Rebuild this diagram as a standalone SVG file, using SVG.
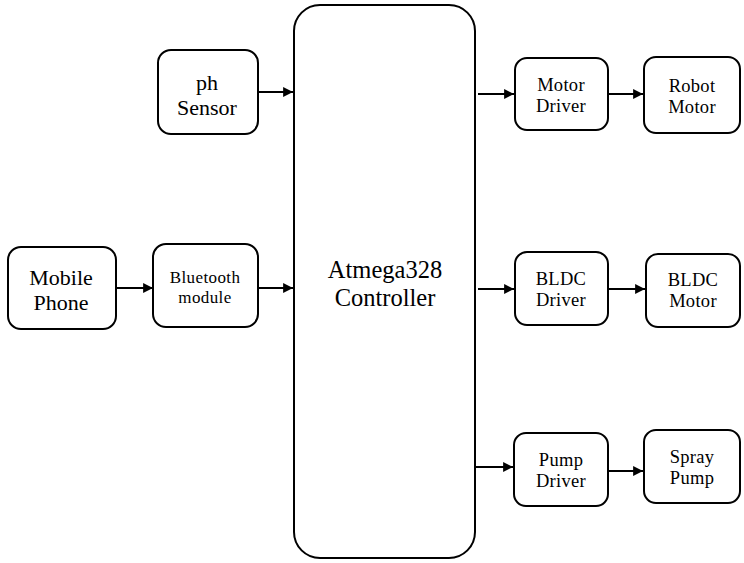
<svg xmlns="http://www.w3.org/2000/svg" width="744" height="563" viewBox="0 0 744 563">
<style>
.n{fill:#fff;stroke:#000;stroke-width:2}
.t{font-family:'Liberation Serif','DejaVu Serif',serif;fill:#000;text-anchor:middle}
.s{font-size:18.5px;letter-spacing:0.3px}
.c{stroke:#000;stroke-width:2.2;fill:none;marker-end:url(#a)}
</style>
<defs>
<marker id="a" viewBox="0 0 10 10" refX="10" refY="5" markerWidth="4.5" markerHeight="4.5" orient="auto" markerUnits="strokeWidth">
<path d="M0,0 L10,5 L0,10 z" fill="#000"/>
</marker>
</defs>
<rect width="744" height="563" fill="#fff"/>
<g id="controller"><rect class="n" x="294" y="5" width="181" height="553" rx="26"/>
<text class="t" x="385" y="278" font-size="24.5">Atmega328</text>
<text class="t" x="385" y="306" font-size="24.5">Controller</text></g>
<g id="ph"><rect class="n" x="158" y="50" width="100" height="84" rx="13"/>
<text class="t" x="207" y="90" font-size="22">ph</text>
<text class="t" x="207" y="115" font-size="22">Sensor</text></g>
<g id="mobile"><rect class="n" x="8" y="247" width="108" height="82" rx="13"/>
<text class="t" x="61" y="285" font-size="22">Mobile</text>
<text class="t" x="61" y="310" font-size="22">Phone</text></g>
<g id="bt"><rect class="n" x="153" y="244" width="105" height="83" rx="13"/>
<text class="t" x="205" y="283" font-size="17" letter-spacing="0.4">Bluetooth</text>
<text class="t" x="205" y="303" font-size="17" letter-spacing="0.4">module</text></g>
<g id="motordrv"><rect class="n" x="515" y="58" width="93" height="72" rx="12"/>
<text class="t s" x="561" y="91">Motor</text>
<text class="t s" x="561" y="112">Driver</text></g>
<g id="robot"><rect class="n" x="644" y="57" width="96" height="76" rx="12"/>
<text class="t s" x="692" y="92">Robot</text>
<text class="t s" x="692" y="113">Motor</text></g>
<g id="bldcdrv"><rect class="n" x="515" y="252" width="93" height="73" rx="12"/>
<text class="t s" x="561" y="285">BLDC</text>
<text class="t s" x="561" y="306">Driver</text></g>
<g id="bldc"><rect class="n" x="646" y="254" width="94" height="73" rx="12"/>
<text class="t s" x="693" y="286">BLDC</text>
<text class="t s" x="693" y="307">Motor</text></g>
<g id="pumpdrv"><rect class="n" x="514" y="433" width="94" height="73" rx="12"/>
<text class="t s" x="561" y="466">Pump</text>
<text class="t s" x="561" y="487">Driver</text></g>
<g id="spray"><rect class="n" x="644" y="430" width="96" height="73" rx="12"/>
<text class="t s" x="692" y="463">Spray</text>
<text class="t s" x="692" y="484">Pump</text></g>
<g id="connectors">
<line class="c" x1="258" y1="92" x2="293" y2="92"/>
<line class="c" x1="116" y1="288" x2="153" y2="288"/>
<line class="c" x1="258" y1="288" x2="293" y2="288"/>
<line class="c" x1="478" y1="94" x2="514" y2="94"/>
<line class="c" x1="608" y1="94" x2="643" y2="94"/>
<line class="c" x1="478" y1="289" x2="514" y2="289"/>
<line class="c" x1="608" y1="289" x2="645" y2="289"/>
<line class="c" x1="476" y1="467" x2="513" y2="467"/>
<line class="c" x1="608" y1="471" x2="643" y2="471"/>
</g>
</svg>
